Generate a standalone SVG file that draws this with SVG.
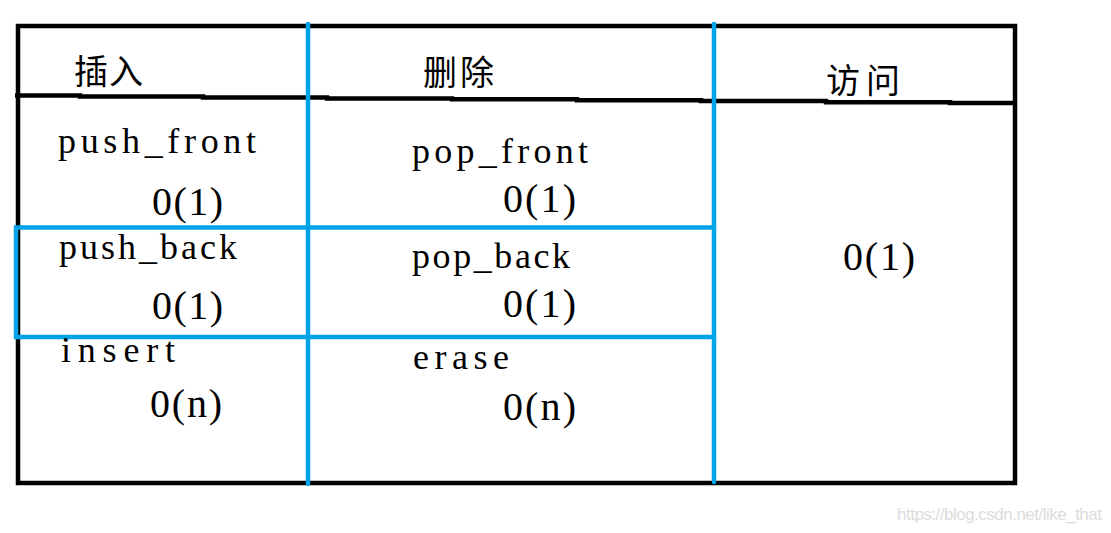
<svg xmlns="http://www.w3.org/2000/svg" width="1111" height="533" viewBox="0 0 1111 533">
<style>
.blk{fill:none;stroke:#000;stroke-width:4.5}
.blu{fill:none;stroke:#00A2E8;stroke-width:4.5;stroke-linecap:round}
.op{font-family:"Liberation Serif","DejaVu Serif",serif;font-size:36px;fill:#000}
.cx{font-family:"Liberation Serif","DejaVu Serif",serif;font-size:40px;fill:#000}
.hd{font-family:"Noto Sans CJK SC","Noto Sans",sans-serif;font-size:34px;fill:#000}
.wm{font-family:"Liberation Sans",Arial,sans-serif;font-size:17px;fill:#dcdcdc}
</style>
<rect width="1111" height="533" fill="#fff"/>
<g id="connectors">
<rect class="blk" x="18" y="26" width="997" height="457"/>
<path class="blk" d="M15,95.5 H80 V96.5 H203 V97.5 H327 V98.5 H452 V99.3 H577 V100.3 H701 V101 H826 V102.3 H950 V103 H1015"/>
<line class="blu" x1="308" y1="24" x2="308" y2="484"/>
<line class="blu" x1="714" y1="24" x2="714" y2="482"/>
<polyline class="blu" points="714,227.5 16,227.5 16,337 714,337" stroke-linecap="butt"/>
</g>
<g id="head-insert"><text class="hd" x="74" y="84" textLength="69">插入</text></g>
<g id="head-delete"><text class="hd" x="423" y="85" textLength="71">删除</text></g>
<g id="head-access"><text class="hd" x="826" y="93" textLength="74">访问</text></g>
<g id="push-front">
<text class="op" x="58" y="153" textLength="198" lengthAdjust="spacing">push_front</text>
<text class="cx" x="152" y="215" textLength="71" lengthAdjust="spacing">0(1)</text>
</g>
<g id="push-back">
<text class="op" x="59" y="259" textLength="178" lengthAdjust="spacing">push_back</text>
<text class="cx" x="152" y="319" textLength="71" lengthAdjust="spacing">0(1)</text>
</g>
<g id="insert">
<text class="op" x="61" y="362" textLength="114" lengthAdjust="spacing">insert</text>
<text class="cx" x="150" y="417" textLength="72" lengthAdjust="spacing">0(n)</text>
</g>
<g id="pop-front">
<text class="op" x="412" y="163" textLength="176" lengthAdjust="spacing">pop_front</text>
<text class="cx" x="503" y="212" textLength="73" lengthAdjust="spacing">0(1)</text>
</g>
<g id="pop-back">
<text class="op" x="412" y="268" textLength="158" lengthAdjust="spacing">pop_back</text>
<text class="cx" x="503" y="317" textLength="73" lengthAdjust="spacing">0(1)</text>
</g>
<g id="erase">
<text class="op" x="413" y="369" textLength="96" lengthAdjust="spacing">erase</text>
<text class="cx" x="503" y="420" textLength="73" lengthAdjust="spacing">0(n)</text>
</g>
<g id="access">
<text class="cx" x="843" y="270" textLength="72" lengthAdjust="spacing">0(1)</text>
</g>
<text class="wm" x="897" y="520" textLength="205">https://blog.csdn.net/like_that</text>
</svg>
